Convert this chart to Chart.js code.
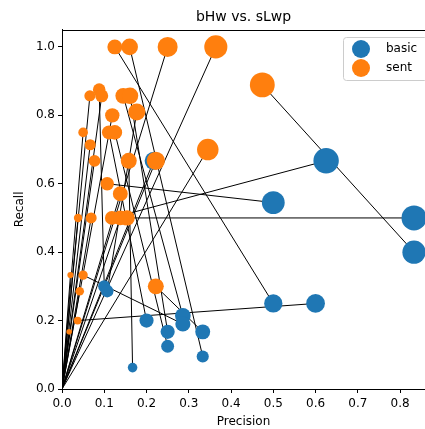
<!DOCTYPE html>
<html>
<head>
<meta charset="utf-8">
<title>bHw vs. sLwp</title>
<script src="https://cdn.jsdelivr.net/npm/chart.js@4.4.1/dist/chart.umd.min.js"></script>
<style>
    html, body { margin: 0; padding: 0; background: #fff; }
    canvas { display: block; }
</style>
</head>
<body>
<canvas id="chart" width="425" height="429"></canvas>
<script>
// ── Datos: cada índice es un par basic ↔ sent (0,0 = sin acierto) ──
const basicPrecision = [0.5, 0.333, 0, 0, 0.833, 0, 0, 0.217, 0.167, 0, 0.1, 0, 0, 0.286, 0.25, 0.107, 0,
                        0, 0.2, 0.25, 0, 0.5, 0, 0, 0, 0.625, 0, 0.833, 0, 0.286, 0, 0.333, 0.6, 0];
const basicRecall    = [0.25, 0.095, 0, 0, 0.4, 0, 0, 0.667, 0.0625, 0, 0.3, 0, 0, 0.214, 0.167, 0.286, 0,
                        0, 0.2, 0.125, 0, 0.545, 0, 0, 0, 0.667, 0, 0.5, 0, 0.19, 0, 0.167, 0.25, 0];
const sentPrecision  = [0.125, 0.16, 0.25, 0.364, 0.474, 0.345, 0.222, 0, 0.158, 0.077, 0.088, 0.066, 0.094, 0.145, 0.161, 0.177, 0.119,
                        0.05, 0.111, 0.125, 0.0667, 0.107, 0.138, 0.038, 0.069, 0.118, 0.138, 0.154, 0.02, 0.05, 0.042, 0.222, 0.037, 0.017];
const sentRecall     = [1.0, 1.0, 1.0, 1.0, 0.889, 0.7, 0.667, 0, 0.667, 0.667, 0.875, 0.857, 0.857, 0.857, 0.857, 0.81, 0.8,
                        0.75, 0.75, 0.75, 0.714, 0.6, 0.571, 0.5, 0.5, 0.5, 0.5, 0.5, 0.333, 0.333, 0.286, 0.3, 0.2, 0.167];

const seriesNames = ['basic', 'sent'];
const xTicks = [0, 0.1, 0.2, 0.3, 0.4, 0.5, 0.6, 0.7, 0.8];
const yTicks = [0, 0.2, 0.4, 0.6, 0.8, 1.0];

const BLUE = '#1f77b4', ORANGE = '#ff7f0e';
const FONT = "'DejaVu Sans', sans-serif";

// tamaño del punto ∝ F1
const f1    = (p, r) => (p + r) ? 2 * p * r / (p + r) : 0;
const radio = c => c.raw ? Math.sqrt(250 * f1(c.raw.x, c.raw.y)) : 0;
const toPts = (xs, ys) => xs.map((x, i) => ({ x, y: ys[i] }));

// ── Líneas que unen cada par ──
const paresPlugin = {
    id: 'pares',
    beforeDatasetsDraw(chart) {
        const { ctx, chartArea: a, scales: { x, y } } = chart;
        ctx.save();
        ctx.beginPath();
        ctx.rect(a.left, a.top, a.right - a.left, a.bottom - a.top);
        ctx.clip();
        ctx.strokeStyle = '#000';
        ctx.lineWidth = 1;
        basicPrecision.forEach((bp, i) => {
            ctx.beginPath();
            ctx.moveTo(x.getPixelForValue(bp), y.getPixelForValue(basicRecall[i]));
            ctx.lineTo(x.getPixelForValue(sentPrecision[i]), y.getPixelForValue(sentRecall[i]));
            ctx.stroke();
        });
        ctx.restore();
    }
};

// ── Marco superior + leyenda estilo matplotlib ──
const marcoPlugin = {
    id: 'marco',
    afterDraw(chart) {
        const { ctx, chartArea: a } = chart;
        ctx.save();
        ctx.strokeStyle = '#000';
        ctx.lineWidth = 1;
        ctx.beginPath();
        ctx.moveTo(a.left, Math.round(a.top) + 0.5);
        ctx.lineTo(a.right, Math.round(a.top) + 0.5);
        ctx.stroke();

        // leyenda
        const bx = 343.5, by = 37.5, bw = 84, bh = 43;
        ctx.beginPath();
        ctx.roundRect(bx, by, bw, bh, 3);
        ctx.fillStyle = 'rgba(255,255,255,0.8)';
        ctx.fill();
        ctx.strokeStyle = '#cccccc';
        ctx.stroke();
        const colores = [BLUE, ORANGE];
        ctx.font = '12px ' + FONT;
        ctx.textBaseline = 'middle';
        seriesNames.forEach((name, i) => {
            const cy = 49 + i * 19;
            ctx.beginPath();
            ctx.arc(361, cy, 9, 0, Math.PI * 2);
            ctx.fillStyle = colores[i];
            ctx.fill();
            ctx.fillStyle = '#000';
            ctx.fillText(name, 386, cy);
        });
        ctx.restore();
    }
};

const tickFont = { family: FONT, size: 12 };

new Chart(document.getElementById('chart'), {
    type: 'scatter',
    data: {
        datasets: [
            { label: seriesNames[0], data: toPts(basicPrecision, basicRecall), backgroundColor: BLUE,
              borderWidth: 0, pointRadius: radio, pointHoverRadius: radio, order: 1, clip: false },
            { label: seriesNames[1], data: toPts(sentPrecision, sentRecall), backgroundColor: ORANGE,
              borderWidth: 0, pointRadius: radio, pointHoverRadius: radio, order: 0, clip: false }
        ]
    },
    options: {
        responsive: false,
        animation: false,
        events: [],
        layout: { padding: 0, autoPadding: false },
        plugins: {
            legend: { display: false },
            tooltip: { enabled: false },
            title: {
                display: true,
                text: 'bHw vs. sLwp',
                fullSize: false,
                color: '#000',
                font: { family: FONT, size: 14, weight: 'normal' },
                padding: { top: 9, bottom: 4 }
            }
        },
        scales: {
            x: {
                type: 'linear', min: 0, max: 0.859,
                afterBuildTicks: s => { s.ticks = xTicks.map(v => ({ value: v })); },
                afterFit: s => { s.height = 40; },
                ticks: { callback: v => v.toFixed(1), font: tickFont, color: '#000', padding: 4, maxRotation: 0, autoSkip: false },
                grid: { drawOnChartArea: false, tickLength: 4, color: '#000' },
                border: { color: '#000', width: 1 },
                title: { display: true, text: 'Precision', color: '#000', font: tickFont, padding: { top: 0, bottom: 0 } }
            },
            y: {
                type: 'linear', min: 0, max: 1.05,
                afterBuildTicks: s => { s.ticks = yTicks.map(v => ({ value: v })); },
                afterFit: s => { s.width = 62; },
                ticks: { callback: v => v.toFixed(1), font: tickFont, color: '#000', padding: 3, autoSkip: false },
                grid: { drawOnChartArea: false, tickLength: 4, color: '#000' },
                border: { color: '#000', width: 1 },
                title: { display: true, text: 'Recall', color: '#000', font: tickFont, padding: { top: 13, bottom: 0 } }
            }
        }
    },
    plugins: [paresPlugin, marcoPlugin]
});
</script>
</body>
</html>
